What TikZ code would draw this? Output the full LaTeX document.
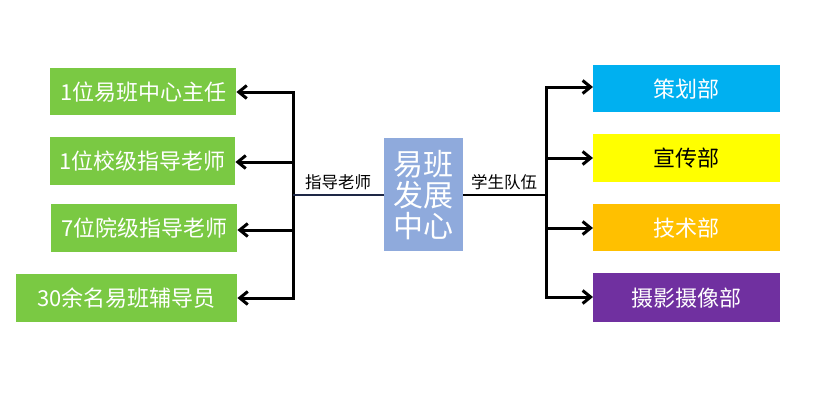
\documentclass[tikz,border=0pt]{standalone}
\usepackage{fontspec}
\setmainfont{Noto Sans CJK SC}
\usetikzlibrary{arrows.meta}
\definecolor{gbox}{RGB}{122,201,67}
\definecolor{cbox}{RGB}{143,170,220}
\definecolor{c1}{RGB}{0,176,240}
\definecolor{c2}{RGB}{255,255,0}
\definecolor{c3}{RGB}{255,192,0}
\definecolor{c4}{RGB}{112,48,160}
\definecolor{navy}{RGB}{30,40,70}
\begin{document}
\begin{tikzpicture}[x=1pt,y=-1pt,
  box/.style={anchor=north west,inner sep=0pt,font=\fontsize{22}{26}\selectfont},
  lbox/.style={box,font=\fontsize{22}{26}\selectfont},
  conn/.style={line width=3pt,line cap=rect,-{Straight Barb[length=8pt,width=13pt,line width=3pt]}},
  trunk/.style={line width=3pt},
  lab/.style={font=\fontsize{16.5}{18}\selectfont,anchor=south}]
\useasboundingbox[fill=white] (0,0) rectangle (829,400);
% left boxes
\node[lbox,fill=gbox,text=white,minimum width=186pt,minimum height=47pt] (l1) at (50,68) {1位易班中心主任};
\node[lbox,fill=gbox,text=white,minimum width=185pt,minimum height=48pt] (l2) at (50,137) {1位校级指导老师};
\node[lbox,fill=gbox,text=white,minimum width=186pt,minimum height=48pt] (l3) at (51,204) {7位院级指导老师};
\node[lbox,fill=gbox,text=white,minimum width=221pt,minimum height=48pt] (l4) at (16,274) {30余名易班辅导员};
% center
\node[box,fill=cbox,text=white,minimum width=79pt,minimum height=113pt,align=center,font=\fontsize{30}{31}\selectfont] (c) at (384,138) {易班\\发展\\中心};
% right boxes
\node[box,fill=c1,text=white,minimum width=187pt,minimum height=47pt] (r1) at (593,65) {策划部};
\node[box,fill=c2,text=black,minimum width=187pt,minimum height=48pt] (r2) at (593,134) {宣传部};
\node[box,fill=c3,text=white,minimum width=187pt,minimum height=47pt] (r3) at (593,204) {技术部};
\node[box,fill=c4,text=white,minimum width=187pt,minimum height=49pt] (r4) at (593,273) {摄影摄像部};
% junction coordinates
\coordinate (lj) at (293,195);
\coordinate (lt) at (293,92);
\coordinate (lb) at (293,298);
\coordinate (rj) at (546,195);
\coordinate (rt) at (546,87);
\coordinate (rb) at (546,297);
% trunks
\draw[trunk] (lt) -- (lb);
\draw[trunk] (rt) -- (rb);
\draw[line width=2.6pt,navy] (c.west |- lj) -- (lj);
\draw[line width=2.6pt,black] (c.east |- rj) -- (rj);
% arrows
\draw[conn] (lt) -- (l1.east |- lt);
\draw[conn] (293,162) -- (l2.east |- 0,162);
\draw[conn] (293,230) -- (l3.east |- 0,230);
\draw[conn] (lb) -- (l4.east |- lb);
\draw[conn] (rt) -- (r1.west |- rt);
\draw[conn] (546,158) -- (r2.west |- 0,158);
\draw[conn] (546,228) -- (r3.west |- 0,228);
\draw[conn] (rb) -- (r4.west |- rb);
% labels
\node[lab] (ll) at (338,193) {指导老师};
\node[lab] (rl) at (504,193) {学生队伍};
\end{tikzpicture}
\end{document}
